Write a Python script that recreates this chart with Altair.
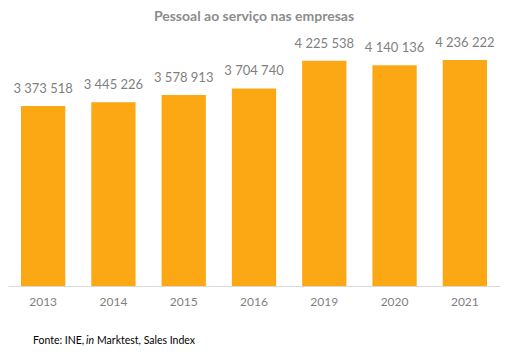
import altair as alt
import pandas as pd

years = ["2013", "2014", "2015", "2016", "2019", "2020", "2021"]
values = [3373518, 3445226, 3578913, 3704740, 4225538, 4140136, 4236222]
labels = ["3 373 518", "3 445 226", "3 578 913", "3 704 740", "4 225 538", "4 140 136", "4 236 222"]

df = pd.DataFrame({"ano": years, "valor": values, "rotulo": labels})

FONT = "Lato"
x = alt.X("ano:N", sort=years, title=None,
          scale=alt.Scale(paddingInner=0.37, paddingOuter=0.185),
          axis=alt.Axis(labelAngle=0, ticks=False, labelPadding=10, labelFont=FONT,
                        labelFontSize=12, labelColor="#7f7f7f", domainColor="#d9d9d9",
                        domainWidth=1))
y = alt.Y("valor:Q", scale=alt.Scale(domain=[0, 4500000]), axis=None)

base = alt.Chart(df)
bars = base.mark_bar(color="#FBA814").encode(x=x, y=y)
text = base.mark_text(dy=-10, baseline="bottom", font=FONT, fontSize=13, color="#7f7f7f").encode(
    x=x, y=y, text="rotulo:N")

foot_df = pd.DataFrame({"a": [1]})
FS = 10.5
f1 = alt.Chart(foot_df).mark_text(align="left", baseline="middle", font=FONT, fontSize=FS, color="#000000").encode(
    x=alt.value(25), y=alt.value(295), text=alt.value("Fonte: INE,"))
f2 = alt.Chart(foot_df).mark_text(align="left", baseline="middle", font=FONT, fontSize=FS, color="#000000", fontStyle="italic").encode(
    x=alt.value(78), y=alt.value(295), text=alt.value("in"))
f3 = alt.Chart(foot_df).mark_text(align="left", baseline="middle", font=FONT, fontSize=FS, color="#000000").encode(
    x=alt.value(89), y=alt.value(295), text=alt.value("Marktest, Sales Index"))

chart = alt.layer(bars, text, f1, f2, f3).properties(
    width=492, height=240,
    title=alt.TitleParams("Pessoal ao serviço nas empresas", font=FONT, fontSize=14, fontWeight="bold",
                          color="#8c8c8c", offset=13, anchor="middle"),
    autosize=alt.AutoSizeParams(type="none"),
    padding={"left": 8, "top": 46, "right": 9, "bottom": 70},
).configure_view(stroke=None)

chart.save("out.html", embed_options={"renderer": "svg", "actions": False})
